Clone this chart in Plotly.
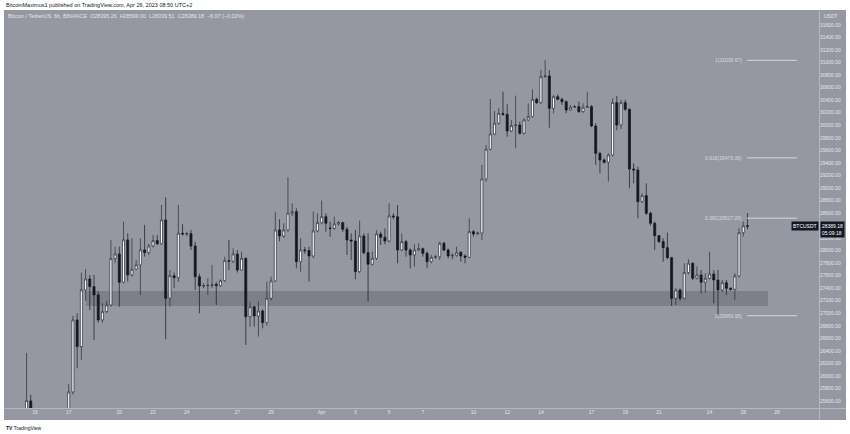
import pandas as pd
import plotly.graph_objects as go

# ---- data (6h candles, BTC/USDT, Binance) ----
candle_index = [-2, -1] + list(range(8, 170))  # 6h steps counted from 2023-03-15 00:00
opens = [24900, 25600,
    25050, 25744, 26893, 26468, 27372, 27547, 27425, 27292, 26893, 27026, 27132, 27872, 27946, 27494, 28170, 27611,
    27701, 27771, 28010, 27967, 28074, 28160, 28110, 28489, 27239, 27600, 27568, 28276, 28265, 28270, 28074, 27584,
    27436, 27440, 27445, 27462, 27440, 27520, 27839, 27830, 27946, 27690, 27876, 26946, 27105, 26956, 27036, 26850,
    27238, 27515, 28329, 28233, 28329, 28595, 28621, 27823, 28009, 28000, 27914, 28313, 28446, 28541, 28360, 28355,
    28424, 28446, 28339, 28169, 28153, 27664, 28233, 27967, 27781, 27876, 28265, 28212, 28153, 28552, 28541, 28009,
    28142, 28009, 27930, 28009, 28030, 27956, 27823, 27892, 27900, 28116, 28009, 27914, 27925, 27972, 27914, 27892,
    28302, 28265, 28280, 29142, 29616, 29860, 30031, 30190, 30174, 29908, 29993, 30004, 29871, 30084, 30137, 30414,
    30360, 30775, 30786, 30270, 30456, 30414, 30376, 30243, 30286, 30297, 30217, 30286, 30297, 29988, 29552, 29446,
    29408, 29525, 30361, 30004, 30361, 30254, 29302, 29286, 28781, 28877, 28595, 28435, 28238, 28143, 28047, 27887,
    27238, 27371, 27238, 27648, 27797, 27558, 27611, 27494, 27558, 27627, 27531, 27371, 27488, 27398, 27382, 27595,
    28286, 28395.26]
highs = [26366, 25700,
    25872, 26957, 27000, 27650, 27701, 27611, 27611, 27350, 27159, 27200, 28170, 28063, 28063, 28462, 28276, 28196,
    27850, 28196, 28409, 28110, 28249, 28250, 28728, 28850, 27690, 27650, 28728, 28420, 28300, 28329, 28140, 27630,
    27480, 27557, 27770, 27500, 27540, 27903, 28169, 28036, 28009, 27983, 27890, 27185, 27116, 27185, 27063, 27504,
    27584, 28621, 28500, 28435, 29169, 28754, 28674, 28196, 28060, 28063, 28621, 28595, 28797, 28595, 28462, 28541,
    28470, 28462, 28380, 28275, 28329, 28478, 28275, 28275, 27983, 28329, 28302, 28355, 28754, 28595, 28727, 28275,
    28169, 28036, 28100, 28116, 28047, 27983, 27930, 27930, 28142, 28142, 28036, 27956, 28063, 27993, 27940, 28515,
    28329, 28300, 29366, 29685, 30419, 30227, 30270, 30536, 30334, 30084, 30472, 30057, 30110, 30350, 30573, 30440,
    30882, 31036.67, 30882, 30483, 30493, 30440, 30400, 30323, 30323, 30376, 30350, 30536, 30323, 30030, 29580, 29472,
    29550, 30430, 30467, 30403, 30403, 30270, 29393, 29339, 28914, 29073, 28621, 28462, 28249, 28196, 28286, 27900,
    27398, 27398, 27797, 27861, 27813, 27744, 27690, 27637, 27983, 27690, 27690, 27531, 27531, 27414, 27637, 28355,
    28462, 28599.00]
lows = [24800, 24300,
    24900, 25700, 26122, 26255, 27200, 27053, 26574, 26850, 26850, 27000, 27106, 27800, 27106, 27478, 27505, 27584,
    27691, 27292, 27904, 27930, 28050, 28090, 28090, 26584, 27106, 27400, 27500, 28240, 28230, 28010, 27372, 27000,
    27400, 27291, 27400, 27132, 27420, 27500, 27690, 27800, 27650, 27680, 26494, 26786, 26786, 26627, 26760, 26800,
    27200, 27500, 28150, 28200, 28300, 28550, 27717, 27664, 27950, 27504, 27880, 28290, 28420, 28302, 28220, 28330,
    28400, 28300, 27930, 27850, 27541, 27640, 27940, 27185, 27760, 27850, 28089, 28100, 28130, 28500, 27797, 27990,
    27903, 27717, 27744, 27990, 27903, 27717, 27797, 27870, 27850, 27990, 27876, 27860, 27900, 27823, 27797, 27880,
    28222, 28250, 28169, 29100, 29600, 29840, 30010, 30150, 29818, 29890, 29632, 29850, 29850, 30070, 30120, 30340,
    30340, 30760, 29961, 30190, 30400, 30323, 30190, 30230, 30280, 30200, 30200, 30280, 29970, 29366, 29233, 29390,
    29100, 29500, 29920, 29940, 30230, 28994, 29073, 28515, 28760, 28568, 28400, 28010, 28120, 27823, 27860, 27116,
    27132, 27200, 27220, 27620, 27530, 27540, 27318, 27329, 27540, 27159, 26959.95, 27340, 27292, 27360, 27212, 27570,
    28222, 28339.51]
closes = [25605, 24750,
    25744, 26893, 26468, 27372, 27547, 27425, 27292, 26893, 27026, 27132, 27872, 27946, 27494, 28170, 27611, 27701,
    27771, 28010, 27967, 28074, 28160, 28110, 28489, 27239, 27600, 27568, 28276, 28265, 28270, 28074, 27584, 27436,
    27440, 27445, 27451, 27440, 27520, 27839, 27830, 27946, 27690, 27876, 26946, 27105, 26956, 27036, 26850, 27238,
    27515, 28329, 28233, 28329, 28595, 28621, 27823, 28009, 28000, 27914, 28313, 28446, 28541, 28435, 28355, 28424,
    28446, 28339, 28169, 28153, 27664, 28233, 27967, 27781, 27876, 28265, 28212, 28153, 28552, 28541, 28009, 28142,
    28009, 27930, 28009, 28030, 27956, 27823, 27892, 27900, 28116, 28009, 27914, 27925, 27972, 27914, 27892, 28302,
    28265, 28280, 29142, 29616, 29860, 30031, 30190, 30174, 29908, 29993, 30004, 29871, 30084, 30137, 30414, 30360,
    30775, 30786, 30270, 30456, 30414, 30376, 30243, 30286, 30297, 30217, 30286, 30297, 29988, 29552, 29446, 29408,
    29525, 30361, 30004, 30361, 30254, 29302, 29286, 28781, 28877, 28595, 28435, 28238, 28143, 28047, 27887, 27238,
    27371, 27238, 27648, 27797, 27558, 27611, 27494, 27558, 27627, 27531, 27371, 27488, 27398, 27382, 27595, 28286,
    28395.25, 28389.18]

x_tick_dates = ["2023-03-15", "2023-03-17", "2023-03-20", "2023-03-22", "2023-03-24", "2023-03-27", "2023-03-29",
                "2023-04-01", "2023-04-03", "2023-04-05", "2023-04-07", "2023-04-10", "2023-04-12", "2023-04-14",
                "2023-04-17", "2023-04-19", "2023-04-21", "2023-04-24", "2023-04-26", "2023-04-28"]
x_tick_labels = ["15", "17", "20", "22", "24", "27", "29", "Apr", "3", "5", "7", "10", "12", "14",
                 "17", "19", "21", "24", "26", "28"]
# 28400 is hidden behind the last-price label in the reference
price_ticks = [v for v in range(25600, 31601, 200) if v != 28400]
fib_levels = [31036.67, 29479.36, 28517.26, 26959.95]
fib_labels = ["1(31036.67)", "0.618(29479.36)", "0.382(28517.26)", "0(26959.95)"]
support_zone = [27116, 27355]
last_price = 28389.18

base = pd.Timestamp("2023-03-15 00:00")
dates = [base + pd.Timedelta(hours=6 * k) for k in candle_index]

BG = "#9598a1"
TXT = "#e3e5ea"
FONT = "Liberation Sans, Arial, sans-serif"

fig = go.Figure(go.Candlestick(
    x=dates, open=opens, high=highs, low=lows, close=closes,
    increasing=dict(line=dict(color="#2a2d35", width=0.7), fillcolor="#ffffff"),
    decreasing=dict(line=dict(color="#15171d", width=0.7), fillcolor="#15171d"),
    whiskerwidth=0, showlegend=False, hoverinfo="skip"))

# pixel helpers for paper coordinates (plot area: x 4..819, y 10..408)
def px(xp):
    return (xp - 4) / 815.0

def py(yp):
    return (408 - yp) / 398.0

shapes = [
    dict(type="rect", xref="paper", yref="paper", x0=px(4), x1=px(846), y0=py(420), y1=py(408),
         fillcolor=BG, line=dict(width=0), layer="below"),
    dict(type="rect", xref="paper", yref="paper", x0=px(819), x1=px(846), y0=py(420), y1=py(10),
         fillcolor=BG, line=dict(width=0), layer="below"),
    dict(type="line", xref="paper", yref="paper", x0=px(4), x1=px(846), y0=py(408.5), y1=py(408.5),
         line=dict(color="#b4b7bf", width=1)),
    dict(type="line", xref="paper", yref="paper", x0=px(819.5), x1=px(819.5), y0=py(420), y1=py(10),
         line=dict(color="#b4b7bf", width=1)),
    dict(type="rect", xref="x", yref="y", x0="2023-03-18 00:35", x1="2023-04-27 11:10",
         y0=support_zone[0], y1=support_zone[1], fillcolor="rgba(95,98,108,0.45)",
         line=dict(width=0), layer="below"),
]
annotations = []
for lvl, lab in zip(fib_levels, fib_labels):
    shapes.append(dict(type="line", xref="x", yref="y", x0="2023-04-26 05:20", x1="2023-04-29 04:30",
                       y0=lvl, y1=lvl, line=dict(color="#d6d8de", width=1)))
    annotations.append(dict(xref="x", yref="y", x="2023-04-26 01:00", y=lvl, text=lab, showarrow=False,
                            xanchor="right", yanchor="middle", font=dict(size=5, color="#d6d8de", family=FONT)))

annotations += [
    dict(xref="paper", yref="paper", x=px(4), y=py(5), text="BitcoinMaximus1 published on TradingView.com, Apr 26, 2023 08:50 UTC+2",
         showarrow=False, xanchor="left", yanchor="middle", font=dict(size=5.5, color="#131722", family=FONT)),
    dict(xref="paper", yref="paper", x=px(6), y=py(16),
         text="Bitcoin / TetherUS, 6h, BINANCE  O28395.26  H28599.00  L28339.51  C28389.18  −6.07 (−0.02%)",
         showarrow=False, xanchor="left", yanchor="middle", font=dict(size=5.4, color=TXT, family=FONT)),
    dict(xref="paper", yref="paper", x=px(822), y=py(16), text="USDT", showarrow=False,
         xanchor="left", yanchor="middle", font=dict(size=5, color=TXT, family=FONT)),
    dict(xref="paper", yref="y", x=px(819), y=last_price, text="BTCUSDT", showarrow=False,
         xanchor="right", yanchor="middle", bgcolor="#131722", borderpad=1,
         font=dict(size=5, color="#ffffff", family=FONT)),
    dict(xref="paper", yref="y", x=px(820), y=last_price, yshift=-3, text="28389.18<br>05:09:18", showarrow=False,
         xanchor="left", yanchor="middle", bgcolor="#131722", borderpad=1, align="left",
         font=dict(size=5, color="#ffffff", family=FONT)),
    dict(xref="paper", yref="paper", x=px(4), y=py(428), text="<b>TV</b> TradingView", showarrow=False,
         xanchor="left", yanchor="middle", font=dict(size=5, color="#131722", family=FONT)),
]

fig.update_layout(
    width=850, height=434, margin=dict(l=4, r=31, t=10, b=26),
    paper_bgcolor="#ffffff", plot_bgcolor=BG,
    font=dict(family=FONT, size=5, color=TXT),
    shapes=shapes, annotations=annotations,
    xaxis=dict(range=["2023-03-13 03:54", "2023-04-30 11:46"], rangeslider=dict(visible=False),
               showgrid=False, zeroline=False, showline=False, ticks="",
               tickmode="array", tickvals=x_tick_dates, ticktext=x_tick_labels,
               tickfont=dict(size=5, color=TXT, family=FONT), fixedrange=True),
    yaxis=dict(range=[25488, 31839], side="right", showgrid=False, zeroline=False, showline=False,
               ticks="", tickmode="array", tickvals=price_ticks,
               ticktext=[f"{v:.2f}" for v in price_ticks],
               tickfont=dict(size=5, color=TXT, family=FONT), fixedrange=True),
)

fig.write_html("out.html", config={"displayModeBar": False},
               post_script="document.body.style.margin='0';document.body.style.overflow='hidden';")
